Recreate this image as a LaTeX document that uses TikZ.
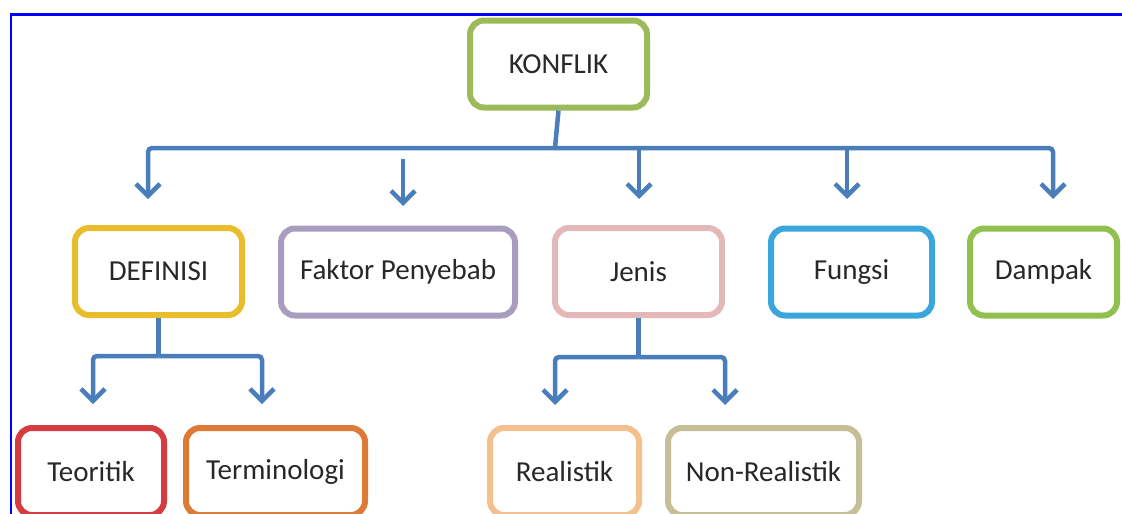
\documentclass[tikz,border=0pt]{standalone}
\usepackage{fontspec}
\setmainfont{Carlito}
\usetikzlibrary{arrows.meta}
\definecolor{arr}{HTML}{4A7EBB}
\definecolor{txt}{HTML}{282828}
\definecolor{cKon}{HTML}{9BBB59}
\definecolor{cDef}{HTML}{E9BE2A}
\definecolor{cFak}{HTML}{A89DBF}
\definecolor{cJen}{HTML}{E3B8B8}
\definecolor{cFun}{HTML}{3AA6DB}
\definecolor{cDam}{HTML}{92C04E}
\definecolor{cTeo}{HTML}{D63B40}
\definecolor{cTer}{HTML}{DD7A36}
\definecolor{cRea}{HTML}{F4C08E}
\definecolor{cNon}{HTML}{C6BE96}
\definecolor{frame}{HTML}{0000FF}
\begin{document}
\begin{tikzpicture}[x=1pt,y=-1pt,
  box/.style={draw, line width=6pt, rounded corners=14pt, fill=white, text=txt,
    font=\fontsize{29}{34}\selectfont, inner sep=0pt, minimum height=87pt},
  link/.style={draw=arr, line width=4.5pt, rounded corners=4pt},
  conn/.style={link, -{Straight Barb[length=12pt,width=24pt]}}]
\clip (0,0) rectangle (1122,514);
\fill[white] (0,0) rectangle (1122,514);
\draw[frame, line width=2.5pt] (11,520) -- (11,14.3) -- (1130,14.3);

% nodes
\node[box, draw=cKon, minimum width=177pt] (k) at (558.5,64) {KONFLIK};
\node[box, draw=cDef, minimum width=167pt] (d) at (158.5,271.5) {DEFINISI};
\node[box, draw=cFak, minimum width=234pt] (f) at (398,272) {Faktor Penyebab};
\node[box, draw=cJen, minimum width=167pt] (j) at (638.5,271.5) {Jenis};
\node[box, draw=cFun, minimum width=161pt] (g) at (851.5,272) {Fungsi};
\node[box, draw=cDam, minimum width=147pt] (m) at (1043.5,272) {Dampak};
\node[box, draw=cTeo, minimum width=146pt] (t) at (91,471.5) {Teoritik};
\node[box, draw=cTer, minimum width=179pt] (r) at (275.5,471.5) {Terminologi};
\node[box, draw=cRea, minimum width=149pt] (re) at (564.5,471.5) {Realistik};
\node[box, draw=cNon, minimum width=191pt] (nr) at (763.5,471.5) {Non-Realistik};

% connector points
\coordinate (kb) at (555,148);
\coordinate (a1) at (148,199);
\coordinate (a2s) at (403,159);
\coordinate (a2) at (403,206);
\coordinate (a3s) at (639,148);
\coordinate (a3) at (639,199);
\coordinate (a4s) at (847,148);
\coordinate (a4) at (847,199);
\coordinate (a5) at (1053,199);
\coordinate (db) at (158.5,356);
\coordinate (u1) at (93,404);
\coordinate (u2) at (262,404);
\coordinate (jb) at (638.5,357);
\coordinate (v1) at (555,405);
\coordinate (v2) at (725,405);

% connectors
\draw[link] (k.south) -- (kb);
\draw[conn] (kb) -| (a1);
\draw[conn] (kb) -| (a5);
\draw[conn] (a2s) -- (a2);
\draw[conn] (a3s) -- (a3);
\draw[conn] (a4s) -- (a4);
\draw[link] (d.south) -- (db);
\draw[conn] (db) -| (u1);
\draw[conn] (db) -| (u2);
\draw[link] (j.south) -- (jb);
\draw[conn] (jb) -| (v1);
\draw[conn] (jb) -| (v2);
\end{tikzpicture}
\end{document}
